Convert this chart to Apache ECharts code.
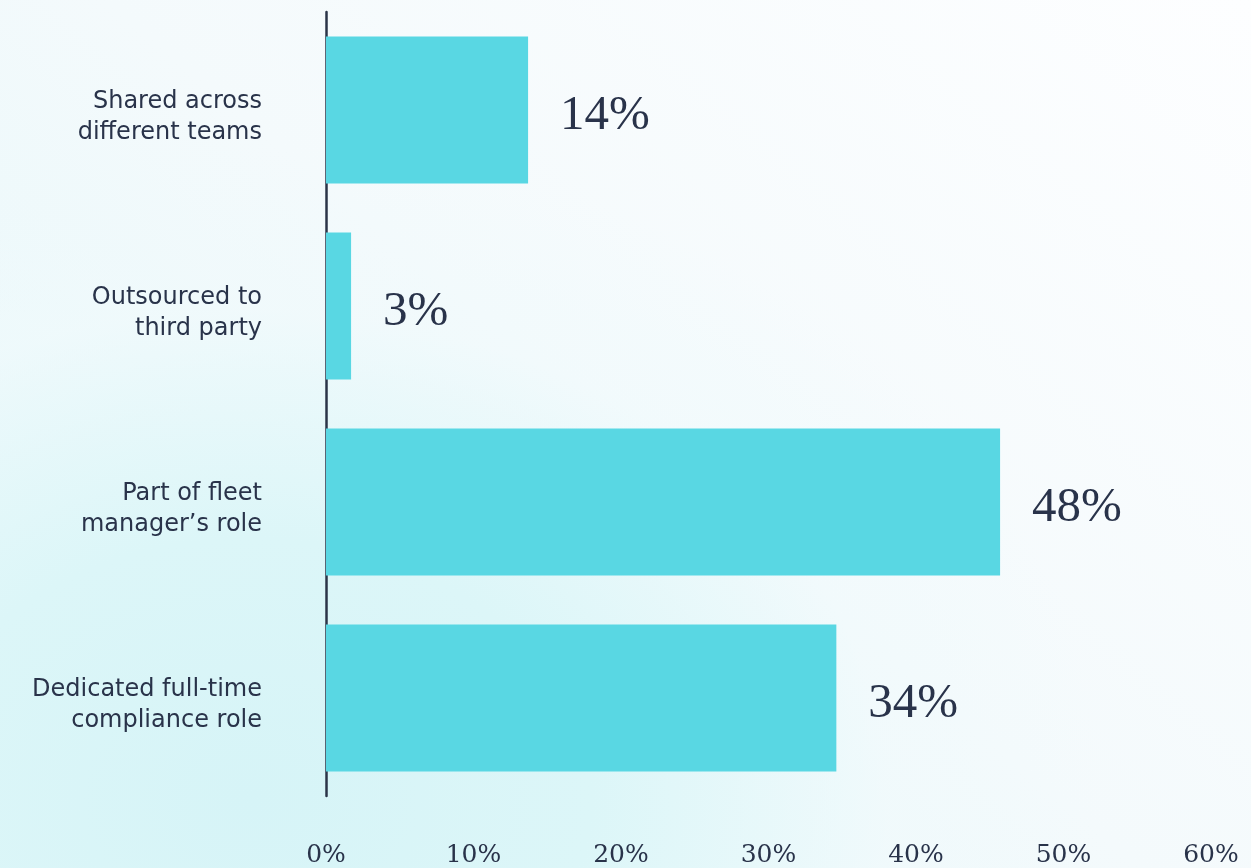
<!DOCTYPE html>
<html>
<head>
<meta charset="utf-8">
<script src="https://cdn.jsdelivr.net/npm/echarts@6/dist/echarts.min.js"></script>
<style>
  html, body { margin: 0; padding: 0; width: 1251px; height: 868px; overflow: hidden; }
  body {
    background:
      radial-gradient(ellipse 850px 650px at 20% 92%, #d6f4f7 0%, #dcf6f8 40%, rgba(240,250,252,0.6) 75%, rgba(255,255,255,0) 100%),
      linear-gradient(40deg, #e2f7f9 0%, #f4fafc 50%, #fdfeff 100%);
  }
  #chart { width: 1251px; height: 868px; }
</style>
</head>
<body>
<div id="chart"></div>
<script>
// Data
const categories = [
  "Shared across\ndifferent teams",
  "Outsourced to\nthird party",
  "Part of fleet\nmanager\u2019s role",
  "Dedicated full-time\ncompliance role"
];
const barValues = [13.7, 1.7, 45.7, 34.6];
const valueLabels = ["14%", "3%", "48%", "34%"];
const tickValues = [0, 10, 20, 30, 40, 50, 60];

const textColor = "#29334a";
const chart = echarts.init(document.getElementById("chart"), null, { renderer: "canvas" });
chart.setOption({
  backgroundColor: "transparent",
  animation: false,
  grid: { left: 326, right: 40, top: 12, bottom: 67, containLabel: false },
  xAxis: {
    type: "value",
    min: tickValues[0],
    max: tickValues[tickValues.length - 1],
    interval: 10,
    axisLine: { show: false },
    axisTick: { show: false },
    splitLine: { show: false },
    axisLabel: {
      formatter: v => v + "%",
      color: textColor,
      fontFamily: "DejaVu Serif",
      fontSize: 25,
      margin: 47
    }
  },
  yAxis: {
    type: "category",
    data: categories,
    inverse: true,
    axisLine: { show: true, lineStyle: { color: "#2b3448", width: 2.5 } },
    axisTick: { show: false },
    axisLabel: {
      formatter: v => v.split("\n").map(s => "{a|" + s + "}").join("\n"),
      align: "right",
      margin: 64,
      rich: {
        a: {
          color: textColor,
          fontFamily: "DejaVu Sans",
          fontSize: 24,
          lineHeight: 31,
          padding: [14, 0, 0, 0]
        }
      }
    }
  },
  series: [{
    type: "bar",
    data: barValues,
    barCategoryGap: "25%",
    itemStyle: { color: "#59d7e3" },
    label: {
      show: true,
      position: "right",
      distance: 32,
      offset: [0, 6],
      formatter: p => valueLabels[p.dataIndex],
      color: textColor,
      fontFamily: "Liberation Serif",
      fontSize: 49
    }
  }]
});
</script>
</body>
</html>
